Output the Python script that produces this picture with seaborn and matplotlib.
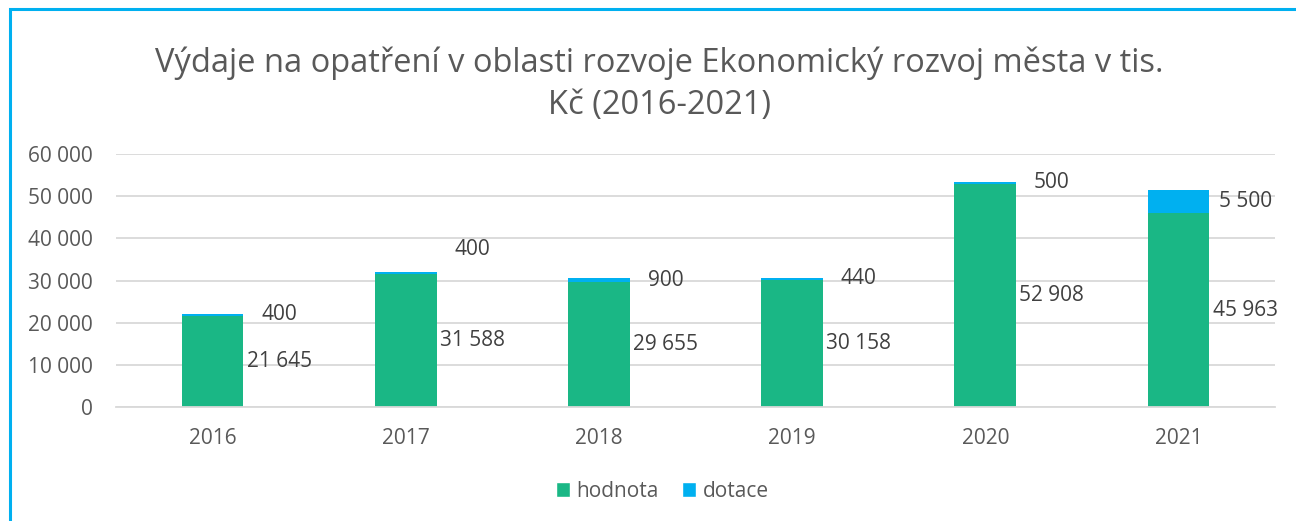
import matplotlib
matplotlib.use("Agg")
import matplotlib.pyplot as plt
import seaborn as sns
import pandas as pd
from matplotlib.patches import Rectangle, Patch

years = ["2016", "2017", "2018", "2019", "2020", "2021"]
hodnota = [21645, 31588, 29655, 30158, 52908, 45963]
dotace = [400, 400, 900, 440, 500, 5500]
hodnota_labels = ["21 645", "31 588", "29 655", "30 158", "52 908", "45 963"]
dotace_labels = ["400", "400", "900", "440", "500", "5 500"]
dotace_label_shift = [0, 5500, 0, 0, 0, 0]
yticks = [0, 10000, 20000, 30000, 40000, 50000, 60000]
ytick_labels = ["0", "10 000", "20 000", "30 000", "40 000", "50 000", "60 000"]
title = "Výdaje na opatření v oblasti rozvoje Ekonomický rozvoj města v tis.\nKč (2016-2021)"

GREEN = "#1AB785"
BLUE = "#00B0F0"
TXT = "#595959"
LBL = "#404040"

sns.set_theme(style="white")
plt.rcParams["font.family"] = ["Open Sans", "DejaVu Sans"]

df = pd.DataFrame({"rok": years, "hodnota": hodnota, "dotace": dotace})
df["celkem"] = df["hodnota"] + df["dotace"]

fig = plt.figure(figsize=(12.96, 5.21), dpi=100)
ax = fig.add_axes([0.0895, 0.2188, 0.8943, 0.4856])

sns.barplot(data=df, x="rok", y="celkem", color=BLUE, width=0.32, ax=ax,
            saturation=1, edgecolor="none", linewidth=0)
sns.barplot(data=df, x="rok", y="hodnota", color=GREEN, width=0.32, ax=ax,
            saturation=1, edgecolor="none", linewidth=0)

ax.set_ylim(0, 60000)
ax.set_xlim(-0.5, len(years) - 0.5)
ax.set_yticks(yticks)
ax.set_yticklabels(ytick_labels)
ax.set_xlabel("")
ax.set_ylabel("")
ax.yaxis.grid(True, color="#D9D9D9", linewidth=1.3)
ax.set_axisbelow(True)
for s in ["top", "right", "left"]:
    ax.spines[s].set_visible(False)
ax.spines["bottom"].set_color("#D9D9D9")
ax.spines["bottom"].set_linewidth(1.3)
ax.tick_params(axis="y", length=0, pad=17, labelsize=15, labelcolor=TXT)
ax.tick_params(axis="x", length=0, pad=15, labelsize=15, labelcolor=TXT)

off = 0.345
for i in range(len(years)):
    ax.text(i + off, hodnota[i] / 2, hodnota_labels[i], ha="center", va="center",
            fontsize=15, color=LBL)
    ax.text(i + off, hodnota[i] + dotace[i] / 2 + dotace_label_shift[i], dotace_labels[i],
            ha="center", va="center", fontsize=15, color=LBL)

fig.text(0.509, 0.838, title, ha="center", va="center", fontsize=23.5, color=TXT,
         linespacing=1.38)

handles = [Patch(facecolor=GREEN, label="hodnota"), Patch(facecolor=BLUE, label="dotace")]
fig.legend(handles=handles, loc="center", bbox_to_anchor=(0.511, 0.057), ncol=2,
           frameon=False, fontsize=15, labelcolor=TXT, handlelength=0.7, handleheight=0.7,
           handletextpad=0.3, columnspacing=1.1)

fig.patches.append(Rectangle((10 / 1296, -0.1), 1.2, 1 - 9 / 521 + 0.1,
                             transform=fig.transFigure, fill=False,
                             edgecolor=BLUE, linewidth=2.2))

fig.savefig("out.png", dpi=100)
